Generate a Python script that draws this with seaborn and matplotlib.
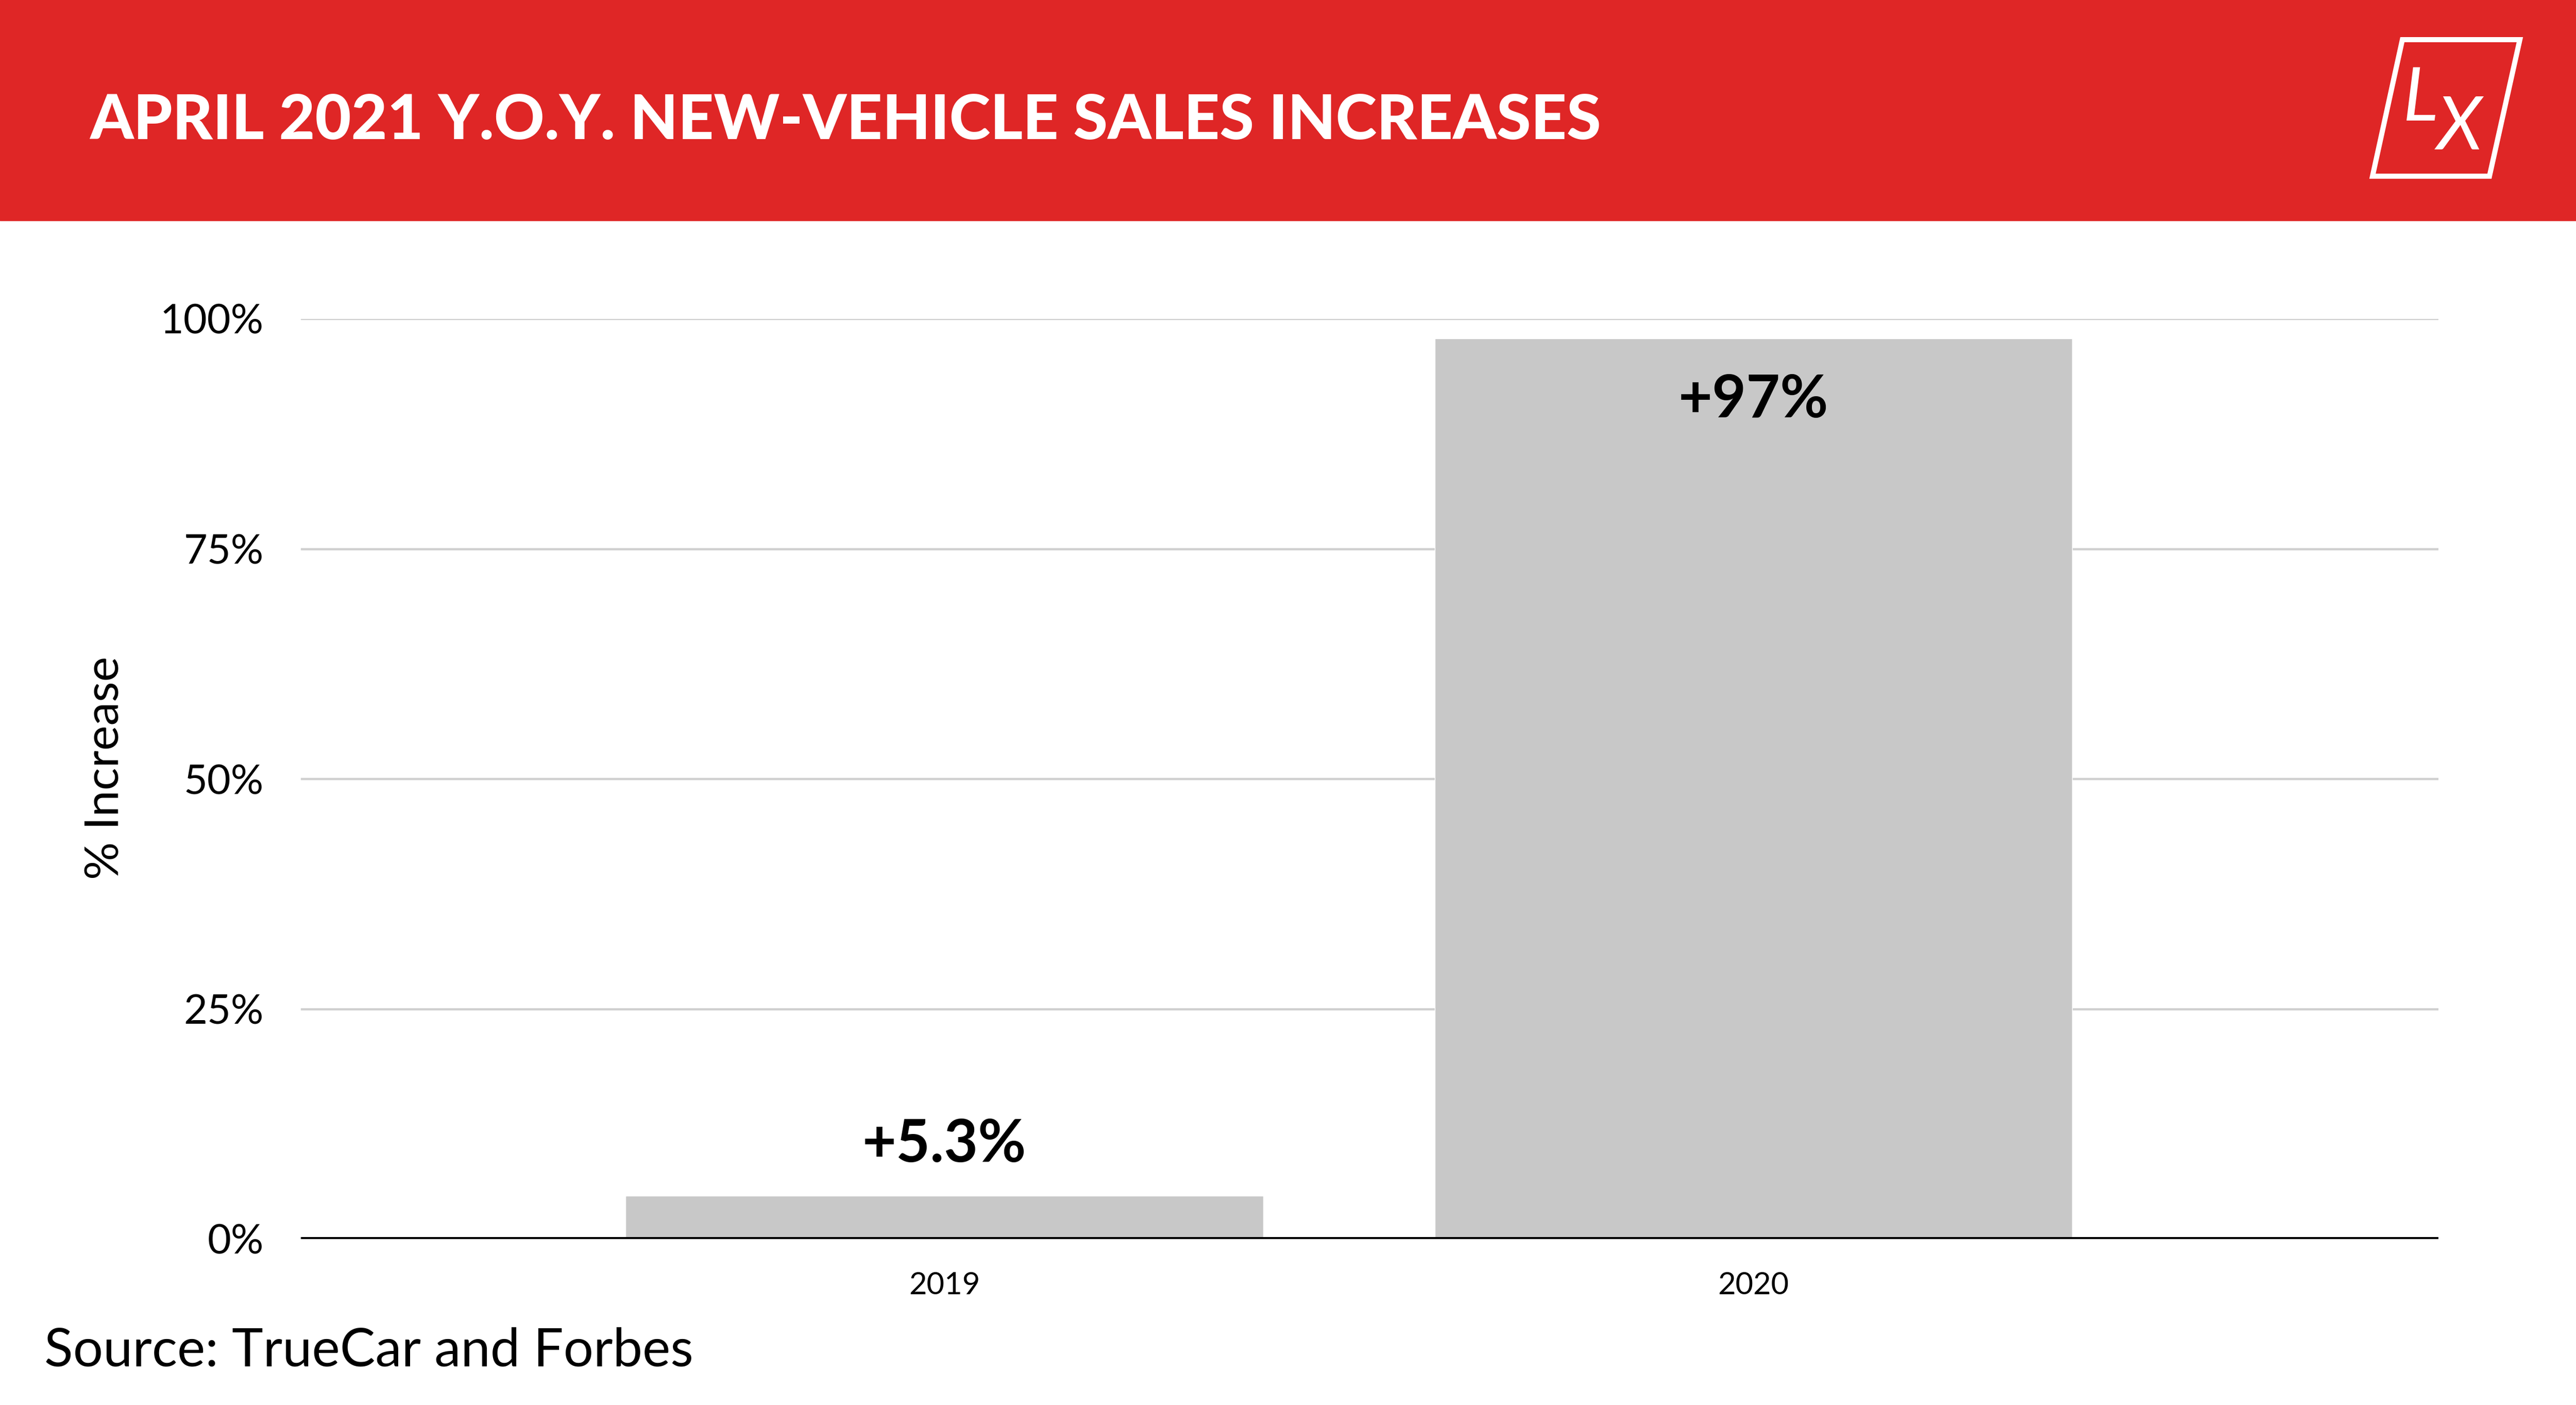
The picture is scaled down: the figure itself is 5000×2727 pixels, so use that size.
import matplotlib
matplotlib.use("Agg")
import matplotlib.pyplot as plt
from matplotlib.patches import Rectangle, Polygon
import seaborn as sns
import pandas as pd

# ---- data ----
years = ["2019", "2020"]
increase = [4.7, 97.9]          # bar heights as drawn (% increase)
bar_labels = ["+5.3%", "+97%"]
yticks = [0, 25, 50, 75, 100]
ytick_labels = ["0%", "25%", "50%", "75%", "100%"]
title = "APRIL 2021 Y.O.Y. NEW-VEHICLE SALES INCREASES"
ylabel = "% Increase"
source = "Source: TrueCar and Forbes"

RED = "#DF2626"
BAR = "#C8C8C8"
GRID = "#D0D0D0"

sns.set_theme(style="white")
plt.rcParams["font.family"] = ["Lato", "DejaVu Sans"]

W, H, DPI = 5000, 2727, 100
fig = plt.figure(figsize=(W / DPI, H / DPI), dpi=DPI)
fig.patch.set_facecolor("white")

# overlay for header / logo / source (pixel coords, y downward)
ov = fig.add_axes([0, 0, 1, 1])
ov.set_xlim(0, W)
ov.set_ylim(H, 0)
ov.axis("off")
ov.add_patch(Rectangle((0, 0), W, 428, color=RED, zorder=0))
ov.text(174, 270, title, color="white", fontsize=87, fontweight="black",
        ha="left", va="baseline")
ov.add_patch(Polygon([(4663, 77), (4891, 77), (4832, 342), (4605, 342)],
                     closed=True, fill=False, edgecolor="white", linewidth=7.2,
                     joinstyle="miter"))
ov.text(4698, 234, "L", color="white", fontsize=104, style="italic",
        ha="center", va="baseline")
ov.text(4774, 290, "X", color="white", fontsize=104, style="italic",
        ha="center", va="baseline")
ov.text(86, 2622, source, color="black", fontsize=74, ha="left", va="center")

# main chart
ax = fig.add_axes([584 / W, 1 - 2405 / H, (4733 - 584) / W, (2405 - 619) / H])
df = pd.DataFrame({"year": years, "increase": increase})
sns.barplot(data=df, x="year", y="increase", color=BAR, saturation=1,
            width=0.788, ax=ax, zorder=2)
ax.set_xlim(-0.7955, 1.847)
ax.set_ylim(0, 100)
ax.set_yticks(yticks)
ax.set_yticklabels(ytick_labels)
ax.grid(axis="y", color=GRID, linewidth=3.2, zorder=0)
ax.set_axisbelow(True)
for s in ["top", "right", "left", "bottom"]:
    ax.spines[s].set_visible(False)
ax.axhline(0, color="black", linewidth=6.5, zorder=5)
ax.tick_params(axis="y", length=0, pad=52, labelsize=57, labelcolor="black")
ax.tick_params(axis="x", length=0, pad=45, labelsize=43, labelcolor="black")
ax.set_xlabel("")
ax.set_ylabel(ylabel, fontsize=66, color="black", va="center")
ax.yaxis.set_label_coords((205 - 584) / (4733 - 584), 0.512)

offsets = [71, -87]
for i, (v, lab, off) in enumerate(zip(increase, bar_labels, offsets)):
    ax.annotate(lab, (i, v), xytext=(0, off), textcoords="offset points",
                ha="center", va="center", fontsize=82, fontweight="bold",
                color="black", zorder=6)

fig.savefig("out.png", dpi=DPI, facecolor="white")
